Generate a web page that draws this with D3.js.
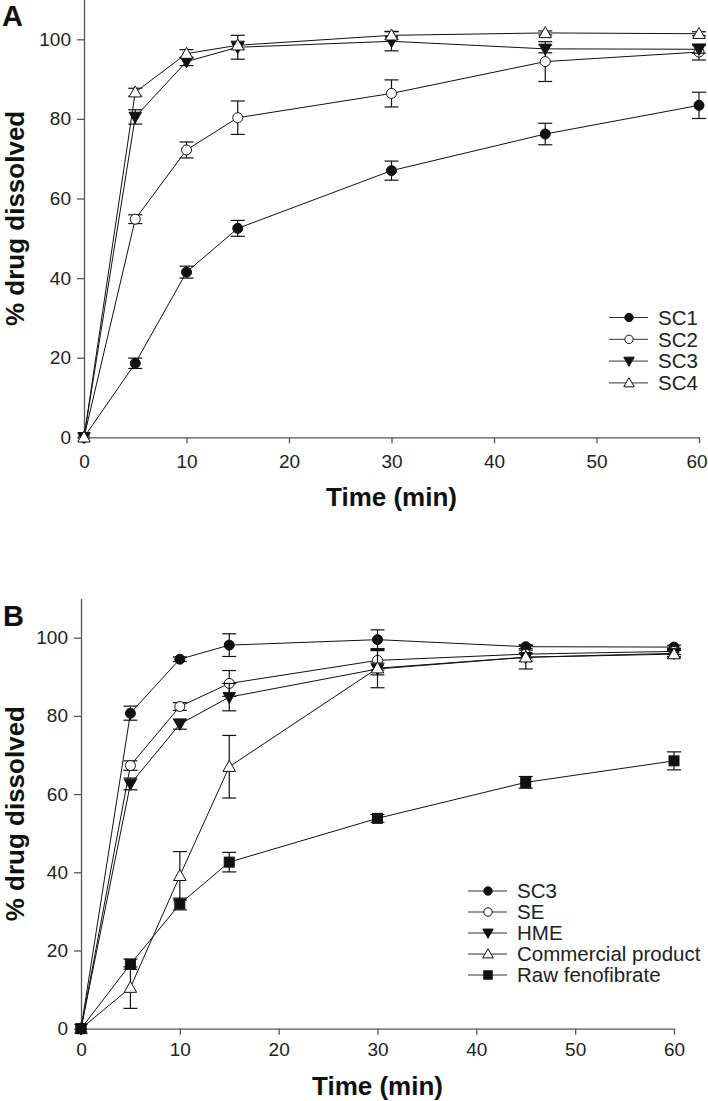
<!DOCTYPE html>
<html><head><meta charset="utf-8">
<script src="https://cdn.jsdelivr.net/npm/d3@7"></script>
<style>body{margin:0;background:#fff}svg{display:block}text{font-family:"Liberation Sans",Arial,sans-serif}</style>
</head><body><svg id="c" width="708" height="1101"></svg>
<script>
const times = [0, 5, 10, 15, 30, 45, 60];
const xTicks = [0, 10, 20, 30, 40, 50, 60];
const yTicks = [0, 20, 40, 60, 80, 100];

// Panel A
const namesA = ["SC1", "SC2", "SC3", "SC4"];
const shapesA = ["circleFilled", "circleOpen", "triDownFilled", "triUpOpen"];
const sc1 = [0, 18.6, 41.5, 52.5, 67.0, 76.2, 83.4];
const sc1Err = [0, 1.3, 1.5, 2.0, 2.4, 2.7, 3.3];
const sc2 = [0, 54.8, 72.2, 80.3, 86.4, 94.4, 96.8];
const sc2Err = [0, 1.1, 2.0, 4.2, 3.4, 5.0, 2.0];
const sc3 = [0, 80.5, 94.4, 98.0, 99.5, 97.6, 97.5];
const sc3Err = [0, 1.8, 1.0, 3.0, 2.4, 1.0, 1.0];
const sc4 = [0, 86.7, 96.4, 98.5, 101.0, 101.6, 101.4];
const sc4Err = [0, 1.0, 1.0, 1.0, 1.0, 0.5, 0.5];

// Panel B
const namesB = ["SC3", "SE", "HME", "Commercial product", "Raw fenofibrate"];
const shapesB = ["circleFilled", "circleOpen", "triDownFilled", "triUpOpen", "squareFilled"];
const bSC3 = [0, 80.7, 94.5, 98.1, 99.5, 97.7, 97.6];
const bSC3Err = [0, 1.8, 0.6, 2.9, 2.5, 0.5, 0.5];
const bSE = [0, 67.3, 82.4, 88.3, 94.2, 95.8, 96.5];
const bSEErr = [0, 1.2, 1.0, 3.3, 2.5, 1.0, 0.8];
const bHME = [0, 62.6, 77.9, 84.8, 92.0, 95.0, 96.0];
const bHMEErr = [0, 1.5, 1.3, 3.5, 1.5, 1.0, 0.8];
const bComm = [0, 10.5, 39.1, 67.0, 92.2, 95.0, 95.8];
const bCommErr = [0, 5.3, 6.2, 8.0, 5.0, 3.0, 1.0];
const bRaw = [0, 16.5, 31.9, 42.6, 53.8, 63.0, 68.5];
const bRawErr = [0, 1.3, 1.5, 2.5, 1.0, 1.5, 2.3];

const svg = d3.select("#c");
const axisColor = "#555";
const txtColor = "#222";

function marker(g, shape, r) {
  const s = r;
  if (shape === "circleFilled" || shape === "circleOpen") {
    g.append("circle").attr("r", s)
      .attr("fill", shape === "circleFilled" ? "#111" : "#fff")
      .attr("stroke", "#111").attr("stroke-width", 1);
  } else if (shape === "triDownFilled") {
    const h = s * 1.25;
    g.append("path").attr("d", `M${-h},${-h*0.75}L${h},${-h*0.75}L0,${h*1.0}Z`)
      .attr("fill", "#111").attr("stroke", "#111").attr("stroke-width", 1);
  } else if (shape === "triUpOpen") {
    const h = s * 1.25;
    g.append("path").attr("d", `M${-h},${h*0.75}L${h},${h*0.75}L0,${-h*1.0}Z`)
      .attr("fill", "#fff").attr("stroke", "#111").attr("stroke-width", 1);
  } else if (shape === "squareFilled") {
    g.append("rect").attr("x", -s).attr("y", -s).attr("width", 2*s).attr("height", 2*s)
      .attr("fill", "#111").attr("stroke", "#111").attr("stroke-width", 1);
  }
}

function panel(cfg) {
  const x = d3.scaleLinear().domain([0, 60]).range([cfg.x0, cfg.x1]);
  const y = d3.scaleLinear().domain([0, 110]).range([cfg.y0, cfg.y1]);
  const g = svg.append("g");

  // axes
  const xa = g.append("g").attr("transform", `translate(0,${cfg.y0})`)
    .call(d3.axisBottom(x).tickValues(xTicks).tickSize(6).tickPadding(cfg.xPad).tickSizeOuter(0));
  const ya = g.append("g").attr("transform", `translate(${cfg.x0},0)`)
    .call(d3.axisLeft(y).tickValues(yTicks).tickSize(7).tickPadding(6).tickSizeOuter(0));
  [xa, ya].forEach(a => {
    a.select(".domain").attr("stroke", axisColor).attr("stroke-width", 1.3);
    a.selectAll(".tick line").attr("stroke", axisColor).attr("stroke-width", 1.3);
    a.selectAll(".tick text").attr("fill", txtColor).style("font-size", "19px")
      .style("font-family", '"Liberation Sans",Arial,sans-serif');
  });
  if (cfg.lastShift) {
    xa.selectAll(".tick text").filter(d => d === 60).attr("dx", cfg.lastShift);
  }

  // series
  cfg.series.forEach((s, i) => {
    const pts = times.map((t, k) => ({ t, v: s.vals[k], e: s.err[k] }));
    g.append("path").datum(pts)
      .attr("fill", "none").attr("stroke", "#111").attr("stroke-width", 1)
      .attr("d", d3.line().x(d => x(d.t)).y(d => y(d.v)));
  });
  cfg.series.forEach((s, i) => {
    const pts = times.map((t, k) => ({ t, v: s.vals[k], e: s.err[k] }));
    const eb = g.append("g");
    pts.filter(d => d.e > 0).forEach(d => {
      const cx = x(d.t), yt = y(d.v + d.e), yb = y(d.v - d.e);
      eb.append("line").attr("x1", cx).attr("x2", cx).attr("y1", yt).attr("y2", yb)
        .attr("stroke", "#111").attr("stroke-width", 1.2);
      [yt, yb].forEach(yy => eb.append("line").attr("x1", cx - 7).attr("x2", cx + 7)
        .attr("y1", yy).attr("y2", yy).attr("stroke", "#111").attr("stroke-width", 1.2));
    });
    pts.forEach(d => {
      const m = g.append("g").attr("transform", `translate(${x(d.t)},${y(d.v)})`);
      marker(m, s.shape, 5);
    });
  });

  // legend
  const lg = g.append("g");
  cfg.series.forEach((s, i) => {
    const yy = cfg.legY + i * cfg.legDy;
    lg.append("line").attr("x1", cfg.legX).attr("x2", cfg.legX + 39).attr("y1", yy).attr("y2", yy)
      .attr("stroke", "#333").attr("stroke-width", 1);
    const m = lg.append("g").attr("transform", `translate(${cfg.legX + 20},${yy})`);
    marker(m, s.shape, 4.2);
    lg.append("text").attr("x", cfg.legX + 49).attr("y", yy).attr("dy", "0.36em")
      .attr("fill", txtColor).style("font-size", "20.5px").text(s.name);
  });

  // titles
  g.append("text").attr("x", (cfg.x0 + cfg.x1) / 2).attr("y", cfg.xTitleY)
    .attr("text-anchor", "middle").style("font-size", "26px").style("font-weight", "bold")
    .attr("fill", "#111").text("Time (min)");
  g.append("text").attr("transform", `translate(${cfg.yTitleX},${(cfg.y0 + cfg.y1) / 2}) rotate(-90)`)
    .attr("text-anchor", "middle").style("font-size", "26px").style("font-weight", "bold")
    .attr("fill", "#111").text("% drug dissolved");
  g.append("text").attr("x", cfg.lblX).attr("y", cfg.lblY)
    .style("font-size", "29px").style("font-weight", "bold").attr("fill", "#111").text(cfg.label);
}

panel({
  x0: 84, x1: 699, y0: 437.3, y1: -0.5, xPad: 11, lastShift: -2.5,
  series: namesA.map((n, i) => ({ name: n, shape: shapesA[i], vals: [sc1, sc2, sc3, sc4][i], err: [sc1Err, sc2Err, sc3Err, sc4Err][i] })),
  legX: 609, legY: 317.5, legDy: 21.8,
  xTitleY: 506, yTitleX: 24, label: "A", lblX: 2, lblY: 26
});
panel({
  x0: 81, x1: 674, y0: 1028.7, y1: 598.6, xPad: 8,
  series: namesB.map((n, i) => ({ name: n, shape: shapesB[i], vals: [bSC3, bSE, bHME, bComm, bRaw][i], err: [bSC3Err, bSEErr, bHMEErr, bCommErr, bRawErr][i] })),
  legX: 468, legY: 891, legDy: 21,
  xTitleY: 1095, yTitleX: 24, label: "B", lblX: 3, lblY: 626
});
</script></body></html>
